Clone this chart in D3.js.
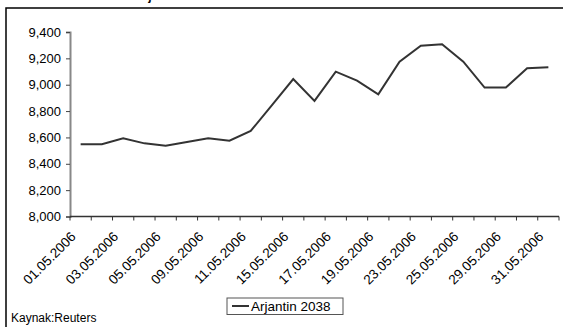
<!DOCTYPE html>
<html>
<head>
<meta charset="utf-8">
<script src="https://cdn.jsdelivr.net/npm/d3@7"></script>
<style>
  body { margin: 0; background: #fff; }
  svg { display: block; font-family: Arial, "Liberation Sans", sans-serif; }
</style>
</head>
<body>
<svg width="563" height="327"></svg>
<script>
"use strict"

// trading days of May 2006
const dates = ["01.05.2006", "02.05.2006", "03.05.2006", "04.05.2006", "05.05.2006",
    "08.05.2006", "09.05.2006", "10.05.2006", "11.05.2006", "12.05.2006",
    "15.05.2006", "16.05.2006", "17.05.2006", "18.05.2006", "19.05.2006",
    "22.05.2006", "23.05.2006", "24.05.2006", "25.05.2006", "26.05.2006",
    "29.05.2006", "30.05.2006", "31.05.2006"]
const values = [8548, 8548, 8593, 8555, 8537, 8565, 8593, 8575, 8649, 8846,
    9043, 8877, 9099, 9031, 8927, 9175, 9296, 9307, 9175, 8978,
    8978, 9125, 9133]
const yTicks = [8000, 8200, 8400, 8600, 8800, 9000, 9200, 9400]
const seriesName = "Arjantin 2038"
const source = "Kaynak:Reuters"

let svg = d3.select("svg")

// outer chart frame (only top and left edges fall inside the picture)
svg.append("rect")
    .attr("x", 6).attr("y", 8)
    .attr("width", 600).attr("height", 400)
    .attr("fill", "none")
    .attr("stroke", "#000")
    .attr("stroke-width", 1.5)

// title is cut off in the source, only the "j" descender shows
svg.append("text")
    .attr("x", 135).attr("y", 0)
    .attr("font-size", 12)
    .attr("font-weight", "bold")
    .text("Arjantin 2038")

let x = d3.scaleBand().domain(dates).range([70, 559]).padding(0)
let y = d3.scaleLinear().domain([8000, 9400]).range([216.5, 32])

// y axis
let yAxis = svg.append("g")
    .attr("transform", "translate(70,0)")
    .call(d3.axisLeft(y).tickValues(yTicks).tickFormat(d3.format(",")).tickSize(4))
yAxis.select(".domain").attr("stroke", "#888").attr("stroke-width", 2)
yAxis.selectAll(".tick line").attr("stroke", "#444")
yAxis.selectAll(".tick text")
    .attr("font-size", 13)
    .attr("font-family", "Arial, 'Liberation Sans', sans-serif")
    .attr("fill", "#000")
    .attr("x", -9)

// x axis: ticks sit on category boundaries
let xBase = y(8000)
let bounds = dates.map(d => x(d)).concat([x.range()[1]])
svg.append("line")
    .attr("x1", x.range()[0]).attr("x2", x.range()[1])
    .attr("y1", xBase).attr("y2", xBase)
    .attr("stroke", "#333").attr("stroke-width", 1.5)
svg.selectAll(".xtick")
    .data(bounds)
    .enter().append("line")
    .attr("class", "xtick")
    .attr("x1", d => d).attr("x2", d => d)
    .attr("y1", xBase).attr("y2", xBase + 4)
    .attr("stroke", "#333")

svg.selectAll(".xlabel")
    .data(dates.filter((d, i) => i % 2 === 0))
    .enter().append("text")
    .attr("class", "xlabel")
    .attr("font-size", 13.5)
    .attr("text-anchor", "end")
    .attr("transform", d => "translate(" + (x(d) + x.bandwidth() / 2 - 4) + "," + (xBase + 21) + ") rotate(-45)")
    .text(d => d)

// series line
let line = d3.line()
    .x((d, i) => x(dates[i]) + x.bandwidth() / 2)
    .y(d => y(d))
svg.append("path")
    .datum(values)
    .attr("d", line)
    .attr("fill", "none")
    .attr("stroke", "#333")
    .attr("stroke-width", 2)

// legend
svg.append("rect")
    .attr("x", 227).attr("y", 298)
    .attr("width", 116).attr("height", 16.5)
    .attr("fill", "#fff")
    .attr("stroke", "#555")
svg.append("line")
    .attr("x1", 232).attr("x2", 249)
    .attr("y1", 306).attr("y2", 306)
    .attr("stroke", "#333").attr("stroke-width", 2)
svg.append("text")
    .attr("x", 251).attr("y", 311)
    .attr("font-size", 13.5)
    .text(seriesName)

svg.append("text")
    .attr("x", 11).attr("y", 321.5)
    .attr("font-size", 12)
    .text(source)
</script>
</body>
</html>
